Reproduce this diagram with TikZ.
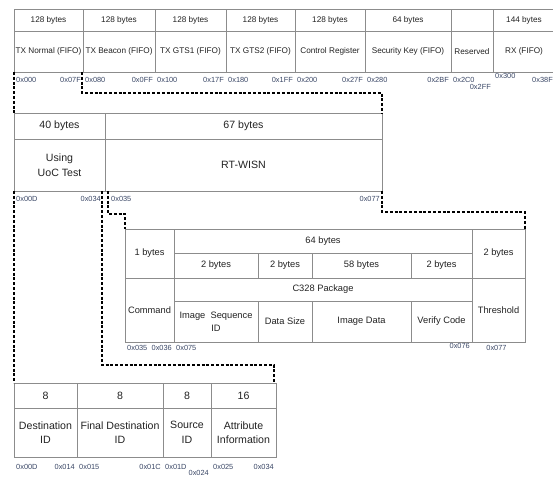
\documentclass[tikz,border=0pt]{standalone}
\usepackage{fontspec}
\setmainfont{Liberation Sans}
\usepackage{tikz}
\usetikzlibrary{positioning}
\definecolor{gridgray}{HTML}{8C8C8C}
\definecolor{ink}{HTML}{222222}
\definecolor{addrblue}{HTML}{3A4766}

\begin{document}
\begin{tikzpicture}[
        x=1pt, y=-1pt,
        cell/.style={
            draw=gridgray,
            line width=0.8pt,
            inner sep=1pt,
            outer sep=0pt,
            text=ink,
            align=center
        },
        wd/.style={minimum width=#1},
        ht/.style={minimum height=#1},
        small/.style={font=\fontsize{8.2}{9.5}\selectfont},
        mid/.style={font=\fontsize{9.3}{13}\selectfont},
        big/.style={font=\fontsize{10.6}{14.5}\selectfont},
        addr/.style={inner sep=1pt, text=addrblue, font=\fontsize{7.4}{8}\selectfont},
        addrl/.style={addr, anchor=north west, xshift=1pt},
        addrr/.style={addr, anchor=north east, xshift=-1pt},
        link/.style={draw=black, line width=1.1pt, dash pattern=on 3pt off 1.8pt}
    ]
    \useasboundingbox (0,0) rectangle (553,476);

    % memory map
    \node[cell, small, wd=69pt, ht=22pt, anchor=north west] (b1) at (14,9) {128 bytes};
    \node[cell, small, wd=72pt, ht=22pt, right=0pt of b1] (b2) {128 bytes};
    \node[cell, small, wd=71pt, ht=22pt, right=0pt of b2] (b3) {128 bytes};
    \node[cell, small, wd=69pt, ht=22pt, right=0pt of b3] (b4) {128 bytes};
    \node[cell, small, wd=70pt, ht=22pt, right=0pt of b4] (b5) {128 bytes};
    \node[cell, small, wd=86pt, ht=22pt, right=0pt of b5] (b6) {64 bytes};
    \node[cell, small, wd=42pt, ht=22pt, right=0pt of b6] (b7) {};
    \node[cell, small, wd=62pt, ht=22pt, right=0pt of b7] (b8) {144 bytes};

    \node[cell, small, wd=69pt, ht=41pt, below=0pt of b1] (normal) {TX Normal (FIFO)};
    \node[cell, small, wd=72pt, ht=41pt, below=0pt of b2] (beacon) {TX Beacon (FIFO)};
    \node[cell, small, wd=71pt, ht=41pt, below=0pt of b3] (gts1) {TX GTS1 (FIFO)};
    \node[cell, small, wd=69pt, ht=41pt, below=0pt of b4] (gts2) {TX GTS2 (FIFO)};
    \node[cell, small, wd=70pt, ht=41pt, below=0pt of b5] (ctrl) {Control Register};
    \node[cell, small, wd=86pt, ht=41pt, below=0pt of b6] (seckey) {Security Key (FIFO)};
    \node[cell, small, wd=42pt, ht=41pt, below=0pt of b7] (reserved) {Reserved};
    \node[cell, small, wd=62pt, ht=41pt, below=0pt of b8] (rxfifo) {RX (FIFO)};

    \begin{scope}[every node/.append style={yshift=-4.3pt}]
        \node[addrl] (a0) at (normal.south west) {0x000};
        \node[addrr] (a1) at (normal.south east) {0x07F};
        \node[addrl] (a2) at (beacon.south west) {0x080};
        \node[addrr] (a3) at (beacon.south east) {0x0FF};
        \node[addrl] (a4) at (gts1.south west) {0x100};
        \node[addrr] (a5) at (gts1.south east) {0x17F};
        \node[addrl] (a6) at (gts2.south west) {0x180};
        \node[addrr] (a7) at (gts2.south east) {0x1FF};
        \node[addrl] (a8) at (ctrl.south west) {0x200};
        \node[addrr] (a9) at (ctrl.south east) {0x27F};
        \node[addrl] (a10) at (seckey.south west) {0x280};
        \node[addrr] (a11) at (seckey.south east) {0x2BF};
        \node[addrl] (a12) at (reserved.south west) {0x2C0};
        \node[addrr, yshift=-7pt] (a13) at (reserved.south east) {0x2FF};
        \node[addrl, yshift=4pt] (a14) at (rxfifo.south west) {0x300};
        \node[addrr] (a15) at (rxfifo.south east) {0x38F};
    \end{scope}

    % RT-WISN area
    \node[cell, big, wd=91pt, ht=26pt, anchor=north west] (h40) at (14,113) {40 bytes};
    \node[cell, big, wd=277pt, ht=26pt, right=0pt of h40] (h67) {67 bytes};
    \node[cell, big, wd=91pt, ht=52pt, below=0pt of h40] (using) {Using\\UoC Test};
    \node[cell, big, wd=277pt, ht=52pt, below=0pt of h67] (rtwisn) {RT-WISN};

    \begin{scope}[every node/.append style={yshift=-4.3pt}]
        \node[addrl] (c0) at (using.south west) {0x00D};
        \node[addrr, xshift=-2pt] (c1) at (using.south east) {0x034};
        \node[addrl, xshift=4pt] (c2) at (rtwisn.south west) {0x035};
        \node[addrr] (c3) at (rtwisn.south east) {0x077};
    \end{scope}

    % command frame
    \node[cell, mid, wd=49pt, ht=49pt, anchor=north west] (onebyte) at (125,229) {1 bytes};
    \node[cell, mid, wd=298pt, ht=24pt, anchor=north west] (sixtyfour) at (onebyte.north east) {64 bytes};
    \node[cell, mid, wd=84pt, ht=25pt, anchor=north west] (twoa) at (sixtyfour.south west) {2 bytes};
    \node[cell, mid, wd=54pt, ht=25pt, right=0pt of twoa] (twob) {2 bytes};
    \node[cell, mid, wd=99pt, ht=25pt, right=0pt of twob] (fiftyeight) {58 bytes};
    \node[cell, mid, wd=61pt, ht=25pt, right=0pt of fiftyeight] (twoc) {2 bytes};
    \node[cell, mid, wd=53pt, ht=49pt, anchor=north west] (twobytes) at (sixtyfour.north east) {2 bytes};

    \node[cell, mid, wd=49pt, ht=64pt, below=0pt of onebyte] (command) {Command};
    \node[cell, mid, wd=298pt, ht=23pt, anchor=north west] (c328) at (twoa.south west) {C328 Package};
    \node[cell, mid, wd=84pt, ht=41pt, anchor=north west] (imgseq) at (c328.south west) {Image\ \ Sequence\\ID};
    \node[cell, mid, wd=54pt, ht=41pt, right=0pt of imgseq] (datasize) {Data Size};
    \node[cell, mid, wd=99pt, ht=41pt, right=0pt of datasize] (imgdata) {Image Data};
    \node[cell, mid, wd=61pt, ht=41pt, right=0pt of imgdata] (verify) {Verify Code};
    \node[cell, mid, wd=53pt, ht=64pt, below=0pt of twobytes] (threshold) {Threshold};

    \begin{scope}[every node/.append style={yshift=-2.3pt}]
        \node[addrl] (d0) at (command.south west) {0x035};
        \node[addrr] (d1) at (command.south east) {0x036};
        \node[addrl] (d2) at (imgseq.south west) {0x075};
        \node[addrr, yshift=2pt] (d3) at (verify.south east) {0x076};
        \node[addr, anchor=north, xshift=-2pt] (d4) at (threshold.south) {0x077};
    \end{scope}

    % header fields
    \node[cell, big, wd=63pt, ht=25pt, anchor=north west] (h8a) at (14,383) {8};
    \node[cell, big, wd=86pt, ht=25pt, right=0pt of h8a] (h8b) {8};
    \node[cell, big, wd=48pt, ht=25pt, right=0pt of h8b] (h8c) {8};
    \node[cell, big, wd=65pt, ht=25pt, right=0pt of h8c] (h16) {16};
    \node[cell, big, wd=63pt, ht=49pt, below=0pt of h8a] (dest) {Destination\\ID};
    \node[cell, big, wd=86pt, ht=49pt, below=0pt of h8b] (final) {Final Destination\\ID};
    \node[cell, big, wd=48pt, ht=49pt, below=0pt of h8c] (source) {Source\\ID};
    \node[cell, big, wd=65pt, ht=49pt, below=0pt of h16] (attr) {Attribute\\Information};

    \begin{scope}[every node/.append style={yshift=-6.3pt}]
        \node[addrl] (e0) at (dest.south west) {0x00D};
        \node[addrr] (e1) at (dest.south east) {0x014};
        \node[addrl] (e2) at (final.south west) {0x015};
        \node[addrr] (e3) at (final.south east) {0x01C};
        \node[addrl] (e4) at (source.south west) {0x01D};
        \node[addrr, yshift=-6pt] (e5) at (source.south east) {0x024};
        \node[addrl] (e6) at (attr.south west) {0x025};
        \node[addrr] (e7) at (attr.south east) {0x034};
    \end{scope}

    % zoom links
    \draw[link] (normal.south west) -- (h40.north west);
    \draw[link] ([xshift=-1pt]beacon.south west) -- ++(0,21) -| (h67.north east);
    \draw[link] (using.south west) -- (h8a.north west);
    \draw[link] ([xshift=-3pt]using.south east) -- ++(0,174) -| ([xshift=-2pt]h16.north east);
    \draw[link] ([xshift=3pt]rtwisn.south west) -- ++(0,23) -| (onebyte.north west);
    \draw[link] (rtwisn.south east) -- ++(0,21) -| (twobytes.north east);
\end{tikzpicture}
\end{document}
